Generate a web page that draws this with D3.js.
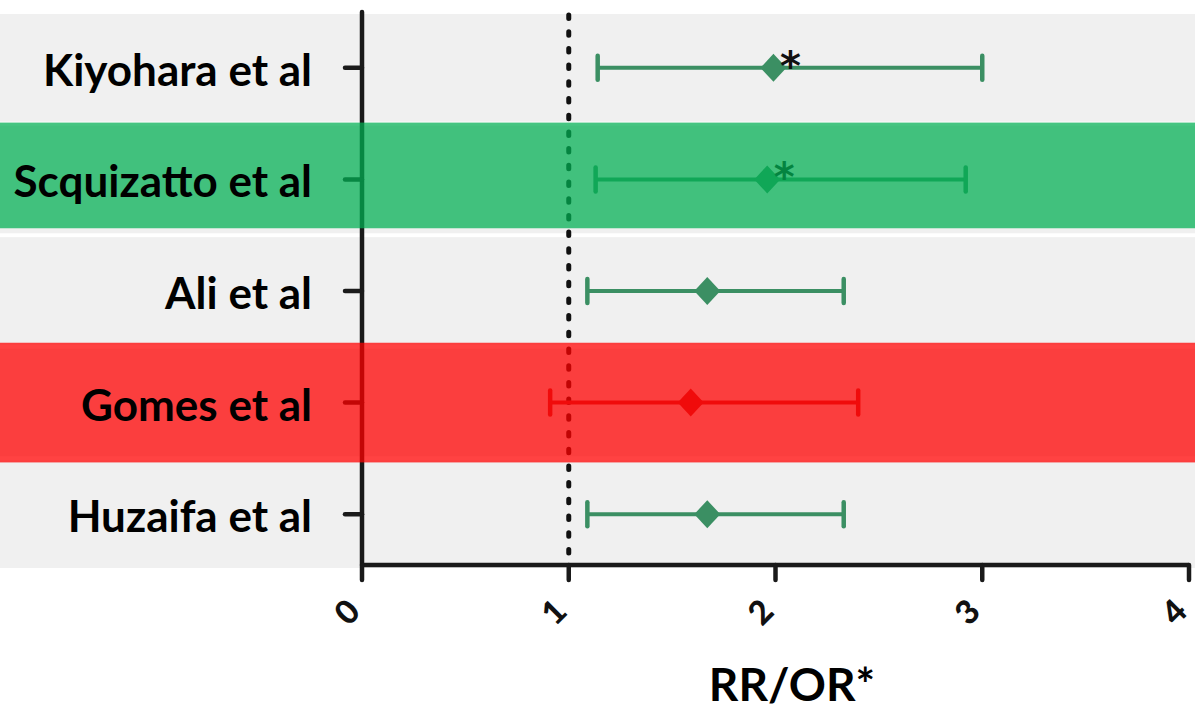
<!DOCTYPE html>
<html>
<head>
<meta charset="utf-8">
<script src="https://cdn.jsdelivr.net/npm/d3@7"></script>
<style>
  html, body { margin: 0; padding: 0; background: #fff; }
  text { font-family: Lato, "Open Sans", sans-serif; font-weight: 700; }
</style>
</head>
<body>
<div id="chart"></div>
<script>
// study rows, top to bottom
var studies = ["Kiyohara et al", "Scquizatto et al", "Ali et al", "Gomes et al", "Huzaifa et al"];
var estimate = [1.99, 1.96, 1.67, 1.59, 1.67];
var lower = [1.14, 1.13, 1.09, 0.91, 1.09];
var upper = [3.00, 2.92, 2.33, 2.40, 2.33];
// * = odds ratio instead of relative risk
var isOR = [true, true, false, false, false];
// row highlight
var verdict = ["", "agree", "", "disagree", ""];
var xTicks = [0, 1, 2, 3, 4];
var refValue = 1;
var axisTitle = "RR/OR*";

var width = 1195, height = 718;

var markColor = "#3b8f63";
var overlay = {agree: "rgba(0,175,82,0.73)", disagree: "rgba(255,0,0,0.74)"};
var overlayMark = {agree: markColor, disagree: "#c52d2d"};

var rows = studies.map(function(s, i) {
  return {name: s, est: estimate[i], lo: lower[i], hi: upper[i], or: isOR[i], v: verdict[i]};
});

var x = d3.scaleLinear().domain([0, 4]).range([362, 1189]);
var y = d3.scaleBand().domain(studies).range([14, 568]).paddingInner(0.035);
var cy = function(d) { return y(d.name) + y.bandwidth() / 2; };

var svg = d3.select("#chart").append("svg")
  .attr("width", width)
  .attr("height", height);

// background bands
svg.append("g").selectAll("rect")
  .data(rows).enter()
  .append("rect")
  .attr("x", 0)
  .attr("width", width)
  .attr("y", function(d) { return y(d.name); })
  .attr("height", y.bandwidth())
  .attr("fill", "#f0f0f0");

var axisY0 = 12, axisBottom = 565;

// y axis + ticks
svg.append("line")
  .attr("x1", x(0)).attr("x2", x(0))
  .attr("y1", axisY0).attr("y2", axisBottom)
  .attr("stroke", "#1a1a1a").attr("stroke-width", 4.5).attr("stroke-linecap", "round");
svg.append("g").selectAll("line")
  .data(rows).enter()
  .append("line")
  .attr("x1", x(0) - 17).attr("x2", x(0))
  .attr("y1", cy).attr("y2", cy)
  .attr("stroke", "#1a1a1a").attr("stroke-width", 4.5).attr("stroke-linecap", "round");

// x axis
svg.append("line")
  .attr("x1", x(0)).attr("x2", x(4))
  .attr("y1", axisBottom).attr("y2", axisBottom)
  .attr("stroke", "#1a1a1a").attr("stroke-width", 4.5);
svg.append("g").selectAll("line")
  .data(xTicks).enter()
  .append("line")
  .attr("x1", x).attr("x2", x)
  .attr("y1", axisBottom).attr("y2", 580)
  .attr("stroke", "#1a1a1a").attr("stroke-width", 4.5).attr("stroke-linecap", "round");
svg.append("g").selectAll("text")
  .data(xTicks).enter()
  .append("text")
  .attr("transform", function(d) { return "translate(" + (x(d) - 16) + ",611) rotate(-45)"; })
  .attr("text-anchor", "middle")
  .attr("dominant-baseline", "central")
  .style("font-size", "33px")
  .style("font-weight", 900)
  .attr("fill", "#111")
  .text(function(d) { return d; });

// reference line at 1
svg.append("line")
  .attr("x1", x(refValue)).attr("x2", x(refValue))
  .attr("y1", axisY0 + 3).attr("y2", axisBottom)
  .attr("stroke", "#111").attr("stroke-width", 5)
  .attr("stroke-linecap", "round")
  .attr("stroke-dasharray", "3.5 13.2");

// error bars
var bars = svg.append("g").selectAll("g")
  .data(rows).enter()
  .append("g")
  .attr("stroke", function(d) { return d.v ? overlayMark[d.v] : markColor; })
  .attr("fill", function(d) { return d.v ? overlayMark[d.v] : markColor; });

bars.append("line")
  .attr("x1", function(d) { return x(d.lo); })
  .attr("x2", function(d) { return x(d.hi); })
  .attr("y1", cy).attr("y2", cy)
  .attr("stroke-width", 4);
bars.append("line")
  .attr("x1", function(d) { return x(d.lo); })
  .attr("x2", function(d) { return x(d.lo); })
  .attr("y1", function(d) { return cy(d) - 12; })
  .attr("y2", function(d) { return cy(d) + 12; })
  .attr("stroke-width", 4.5).attr("stroke-linecap", "round");
bars.append("line")
  .attr("x1", function(d) { return x(d.hi); })
  .attr("x2", function(d) { return x(d.hi); })
  .attr("y1", function(d) { return cy(d) - 12; })
  .attr("y2", function(d) { return cy(d) + 12; })
  .attr("stroke-width", 4.5).attr("stroke-linecap", "round");
bars.append("path")
  .attr("stroke", "none")
  .attr("d", function(d) {
    var px = x(d.est), py = cy(d);
    return "M" + px + "," + (py - 14) + "L" + (px + 13) + "," + py +
      "L" + px + "," + (py + 14) + "L" + (px - 13) + "," + py + "Z";
  });

// asterisks for odds ratios
svg.append("g").selectAll("text")
  .data(rows.filter(function(d) { return d.or; })).enter()
  .append("text")
  .attr("x", function(d) { return x(d.est) + 17; })
  .attr("y", function(d) { return cy(d) + 12; })
  .attr("text-anchor", "middle")
  .style("font-family", "'DejaVu Sans', sans-serif")
  .style("font-size", "40px")
  .attr("fill", "#111")
  .text("*");

// highlight overlays
svg.append("g").selectAll("rect")
  .data(rows.filter(function(d) { return d.v; })).enter()
  .append("rect")
  .attr("x", 0)
  .attr("width", width)
  .attr("y", function(d) { return y(d.name) + (d.v == "agree" ? -3 : -6); })
  .attr("height", function(d) { return y.bandwidth() + (d.v == "agree" ? -2 : 12); })
  .attr("fill", function(d) { return overlay[d.v]; });

// study labels
svg.append("g").selectAll("text")
  .data(rows).enter()
  .append("text")
  .attr("x", 312)
  .attr("y", function(d) { return cy(d) + 18; })
  .attr("text-anchor", "end")
  .style("font-size", "44px")
  .attr("fill", "#000")
  .text(function(d) { return d.name; });

// axis title
svg.append("text")
  .attr("x", 792)
  .attr("y", 701)
  .attr("text-anchor", "middle")
  .style("font-size", "46px")
  .attr("fill", "#000")
  .text(axisTitle);
</script>
</body>
</html>
